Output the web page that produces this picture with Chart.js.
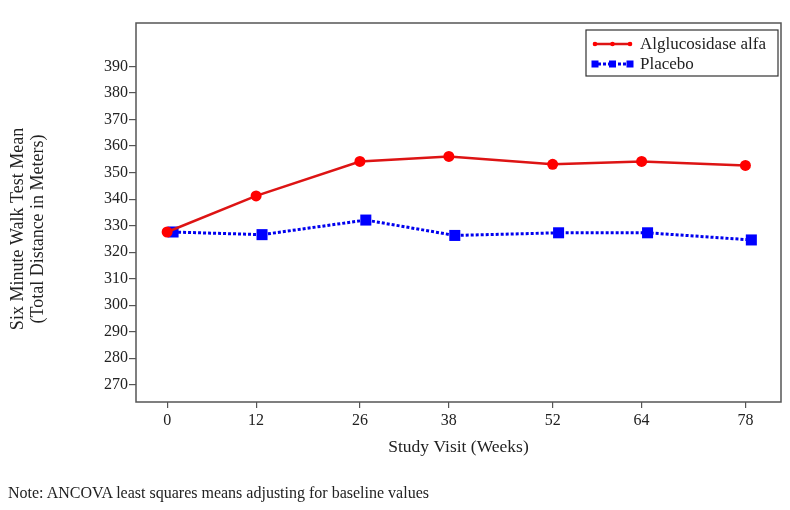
<!DOCTYPE html>
<html>
<head>
<meta charset="utf-8">
<script src="https://cdn.jsdelivr.net/npm/chart.js@4"></script>
<style>
  html, body { margin: 0; padding: 0; background: #fff; }
  #wrap { position: relative; width: 790px; height: 510px; }
  #note {
    position: absolute; left: 8px; top: 484px;
    font-family: 'Liberation Serif', 'Times New Roman', serif;
    font-size: 16px; color: #222;
  }
</style>
</head>
<body>
<div id="wrap">
  <canvas id="chart" width="790" height="510"></canvas>
  <div id="note">Note: ANCOVA least squares means adjusting for baseline values</div>
</div>
<script>
const weeks = [0, 12, 26, 38, 52, 64, 78];
const alglucosidase = [327.6, 341.2, 354.2, 356.1, 353.1, 354.2, 352.7];
const placebo = [327.6, 326.6, 332.1, 326.3, 327.3, 327.3, 324.6];
const placeboShift = 0.8; // placebo points are dodged slightly right
const yTicks = [270, 280, 290, 300, 310, 320, 330, 340, 350, 360, 370, 380, 390];
const seriesNames = ['Alglucosidase alfa', 'Placebo'];
const yTitle = ['Six Minute Walk Test Mean', '(Total Distance in Meters)'];

const FONT = "'Liberation Serif', 'Times New Roman', serif";
const INK = '#222';

const frameAndLegend = {
  id: 'frameAndLegend',
  afterDatasetsDraw(chart) {
    const { ctx, chartArea } = chart;
    ctx.save();
    ctx.strokeStyle = '#555';
    ctx.lineWidth = 1.5;
    ctx.strokeRect(chartArea.left, chartArea.top, chartArea.right - chartArea.left, chartArea.bottom - chartArea.top);

    // legend box
    const w = 192, h = 46;
    const x = chartArea.right - 3 - w;
    const y = chartArea.top + 7;
    ctx.fillStyle = '#fff';
    ctx.fillRect(x, y, w, h);
    ctx.strokeStyle = '#333';
    ctx.lineWidth = 1.2;
    ctx.strokeRect(x, y, w, h);

    chart.data.datasets.forEach((ds, i) => {
      const cy = y + 14 + i * 20;
      const x0 = x + 7, x1 = x + 46;
      ctx.strokeStyle = ds.borderColor;
      ctx.lineWidth = ds.borderWidth;
      ctx.setLineDash(ds.borderDash || []);
      ctx.beginPath();
      ctx.moveTo(x0, cy);
      ctx.lineTo(x1, cy);
      ctx.stroke();
      ctx.setLineDash([]);
      ctx.fillStyle = ds.pointBackgroundColor;
      [x0 + 2, (x0 + x1) / 2, x1 - 2].forEach((px) => {
        if (ds.pointStyle === 'rect') {
          ctx.fillRect(px - 3.5, cy - 3.5, 7, 7);
        } else {
          ctx.beginPath();
          ctx.arc(px, cy, 2.3, 0, Math.PI * 2);
          ctx.fill();
        }
      });
      ctx.fillStyle = INK;
      ctx.font = `17px ${FONT}`;
      ctx.textBaseline = 'middle';
      ctx.textAlign = 'left';
      ctx.fillText(ds.label, x + 54, cy + 1);
    });

    // y axis title, a bit below the plot centre as in the original
    ctx.translate(28, 229);
    ctx.rotate(-Math.PI / 2);
    ctx.fillStyle = INK;
    ctx.font = `18px ${FONT}`;
    ctx.textAlign = 'center';
    ctx.textBaseline = 'middle';
    ctx.fillText(yTitle[0], 0, -10);
    ctx.fillText(yTitle[1], 0, 10);
    ctx.restore();
  }
};

new Chart(document.getElementById('chart').getContext('2d'), {
  type: 'line',
  data: {
    datasets: [
      {
        label: seriesNames[0],
        data: weeks.map((w, i) => ({ x: w, y: alglucosidase[i] })),
        borderColor: '#dd1414',
        borderWidth: 2.5,
        pointStyle: 'circle',
        pointRadius: 5.5,
        pointBackgroundColor: '#ff0000',
        pointBorderColor: '#ff0000',
        pointBorderWidth: 0,
        tension: 0
      },
      {
        label: seriesNames[1],
        data: weeks.map((w, i) => ({ x: w + placeboShift, y: placebo[i] })),
        borderColor: '#0000ee',
        borderWidth: 3,
        borderDash: [3, 2],
        pointStyle: 'rect',
        pointRadius: 7.8,
        pointBackgroundColor: '#0000ff',
        pointBorderColor: '#0000ff',
        pointBorderWidth: 0,
        tension: 0
      }
    ]
  },
  options: {
    responsive: false,
    animation: false,
    layout: { padding: { left: 0, right: 9, top: 23, bottom: 48 } },
    plugins: { legend: { display: false }, tooltip: { enabled: false } },
    scales: {
      x: {
        type: 'linear',
        min: -4.2,
        max: 82.8,
        afterBuildTicks: (scale) => { scale.ticks = weeks.map((v) => ({ value: v })); },
        afterFit: (scale) => { scale.height = 60; },
        border: { display: false },
        grid: { drawOnChartArea: false, tickLength: 6, color: '#555', lineWidth: 1.2 },
        ticks: { color: INK, font: { family: FONT, size: 16 }, padding: 3, maxRotation: 0 },
        title: {
          display: true,
          text: 'Study Visit (Weeks)',
          color: INK,
          font: { family: FONT, size: 17.5 },
          padding: { top: 4 }
        }
      },
      y: {
        min: 263.5,
        max: 406.4,
        afterBuildTicks: (scale) => { scale.ticks = yTicks.map((v) => ({ value: v })); },
        afterFit: (scale) => { scale.width = 136; },
        border: { display: false },
        grid: { drawOnChartArea: false, tickLength: 7, color: '#555', lineWidth: 1.2 },
        ticks: { color: INK, font: { family: FONT, size: 16 }, padding: 1 }
      }
    }
  },
  plugins: [frameAndLegend]
});
</script>
</body>
</html>
